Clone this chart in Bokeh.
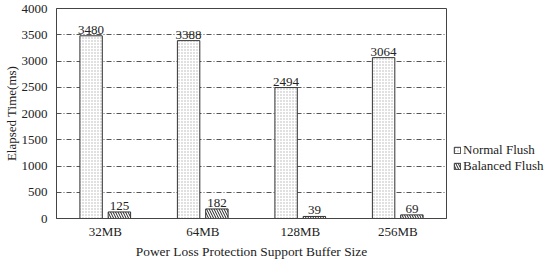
from bokeh.plotting import figure
from bokeh.models import FactorRange, Range1d, ColumnDataSource, Legend, LegendItem, SingleIntervalTicker
from bokeh.transform import dodge
from bokeh.embed import file_html
from bokeh.resources import INLINE

categories = ["32MB", "64MB", "128MB", "256MB"]
normal_flush = [3480, 3388, 2494, 3064]
balanced_flush = [125, 182, 39, 69]

FONT = "Liberation Serif"

src = ColumnDataSource(dict(cat=categories, normal=normal_flush, balanced=balanced_flush,
                            nlab=[str(v) for v in normal_flush], blab=[str(v) for v in balanced_flush]))

p = figure(x_range=FactorRange(*categories, range_padding=0), y_range=Range1d(0, 4000),
           frame_width=390, frame_height=210, output_backend="svg", toolbar_location=None,
           min_border_left=40, min_border_top=8, min_border_right=0, min_border_bottom=0)

w = 0.23
off = 0.145
r1 = p.vbar(x=dodge("cat", -off, range=p.x_range), top="normal", width=w, source=src,
            fill_color="white", line_color="#333333", line_width=1,
            hatch_pattern="dot", hatch_color="#b0b0b0", hatch_scale=3, hatch_weight=1)
r2 = p.vbar(x=dodge("cat", off, range=p.x_range), top="balanced", width=w, source=src,
            fill_color="white", line_color="#333333", line_width=1,
            hatch_pattern="\\", hatch_color="#222222", hatch_scale=5, hatch_weight=1)

for col, lab, o in (("normal", "nlab", -off), ("balanced", "blab", off)):
    p.text(x=dodge("cat", o, range=p.x_range), y=col, text=lab, source=src,
           text_align="center", text_baseline="bottom", y_offset=-2,
           text_font=FONT, text_font_size="13px", text_color="#222222")

p.yaxis.ticker = SingleIntervalTicker(interval=500)
p.xgrid.grid_line_color = None
p.ygrid.grid_line_color = "#555555"
p.ygrid.grid_line_dash = "5 2 1 2"
p.ygrid.grid_line_width = 1

for ax in (p.xaxis[0], p.yaxis[0]):
    ax.major_tick_line_color = None
    ax.minor_tick_line_color = None
    ax.major_tick_out = 0
    ax.major_tick_in = 0
    ax.minor_tick_out = 0
    ax.axis_line_color = "#444444"
    ax.major_label_text_font = FONT
    ax.major_label_text_font_size = "13px"
    ax.major_label_text_color = "#222222"
    ax.axis_label_text_font = FONT
    ax.axis_label_text_font_size = "13px"
    ax.axis_label_text_font_style = "normal"
    ax.axis_label_text_color = "#222222"

p.xaxis.axis_label_text_font_size = "13.4px"
p.yaxis.axis_label = "Elapsed Time(ms)"
p.xaxis.axis_label = "Power Loss Protection Support Buffer Size"
p.xaxis.major_label_standoff = 5
p.xaxis.axis_label_standoff = 2
p.yaxis.major_label_standoff = 9
p.yaxis.axis_label_standoff = 0

p.outline_line_color = "#444444"
p.outline_line_width = 1

legend = Legend(items=[LegendItem(label="Normal Flush", renderers=[r1]),
                       LegendItem(label="Balanced Flush", renderers=[r2])],
                location=(7, 44), orientation="vertical",
                label_text_font=FONT, label_text_font_size="13px", label_text_color="#222222",
                glyph_width=8, glyph_height=8, label_standoff=2, spacing=0,
                padding=3, margin=3, border_line_color=None, background_fill_alpha=0,
                label_height=14)
p.add_layout(legend, "right")

open("out.html", "w").write(file_html(p, INLINE))
